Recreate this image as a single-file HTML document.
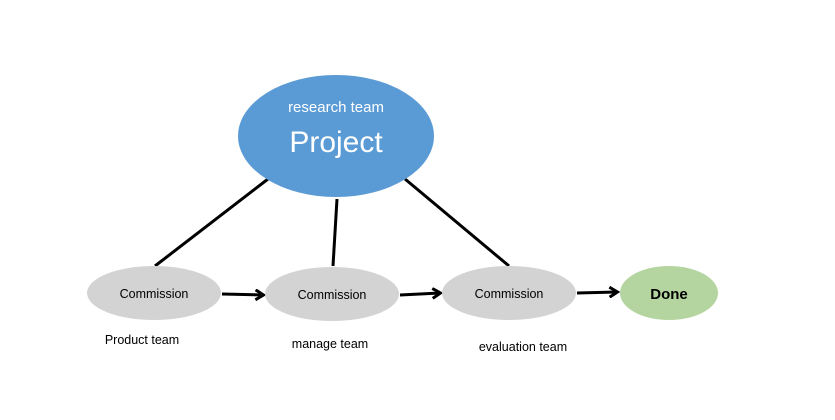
<!DOCTYPE html>
<html><head><meta charset="utf-8"><style>body{margin:0;background:#fff}svg{display:block}</style></head>
<body>
<svg width="835" height="420" viewBox="0 0 835 420" font-family="'Liberation Sans', sans-serif">
<defs><marker id="a" markerWidth="12" markerHeight="12" refX="9" refY="6" orient="auto" markerUnits="userSpaceOnUse"><path d="M1.5,1 L9.5,6 L1.5,11" fill="none" stroke="#000" stroke-width="3"/></marker></defs>
<g stroke="#000" stroke-width="3">
<line x1="268" y1="179" x2="155" y2="266"/>
<line x1="337" y1="199" x2="333" y2="266"/>
<line x1="405" y1="179" x2="509" y2="266"/>
<line x1="222" y1="294" x2="263" y2="295" marker-end="url(#a)"/>
<line x1="400" y1="295" x2="440" y2="293" marker-end="url(#a)"/>
<line x1="577" y1="293" x2="617" y2="292" marker-end="url(#a)"/>
</g>
<ellipse cx="336" cy="136" rx="98" ry="61" fill="#5b9bd5"/>
<text x="336" y="112" fill="#fff" font-size="15" text-anchor="middle">research team</text>
<text x="336" y="152" fill="#fff" font-size="30" text-anchor="middle">Project</text>
<ellipse cx="154" cy="293" rx="67" ry="27" fill="#d3d3d3"/>
<ellipse cx="332" cy="294" rx="67" ry="27" fill="#d3d3d3"/>
<ellipse cx="509" cy="293" rx="67" ry="27" fill="#d3d3d3"/>
<ellipse cx="669" cy="293" rx="49" ry="27" fill="#b5d5a0"/>
<g font-size="12.5" text-anchor="middle" fill="#000">
<text x="154" y="298">Commission</text>
<text x="332" y="299">Commission</text>
<text x="509" y="298">Commission</text>
<text x="669" y="299" font-weight="bold" font-size="15">Done</text>
<text x="142" y="344">Product team</text>
<text x="330" y="348">manage team</text>
<text x="523" y="351">evaluation team</text>
</g>
</svg>
</body></html>
